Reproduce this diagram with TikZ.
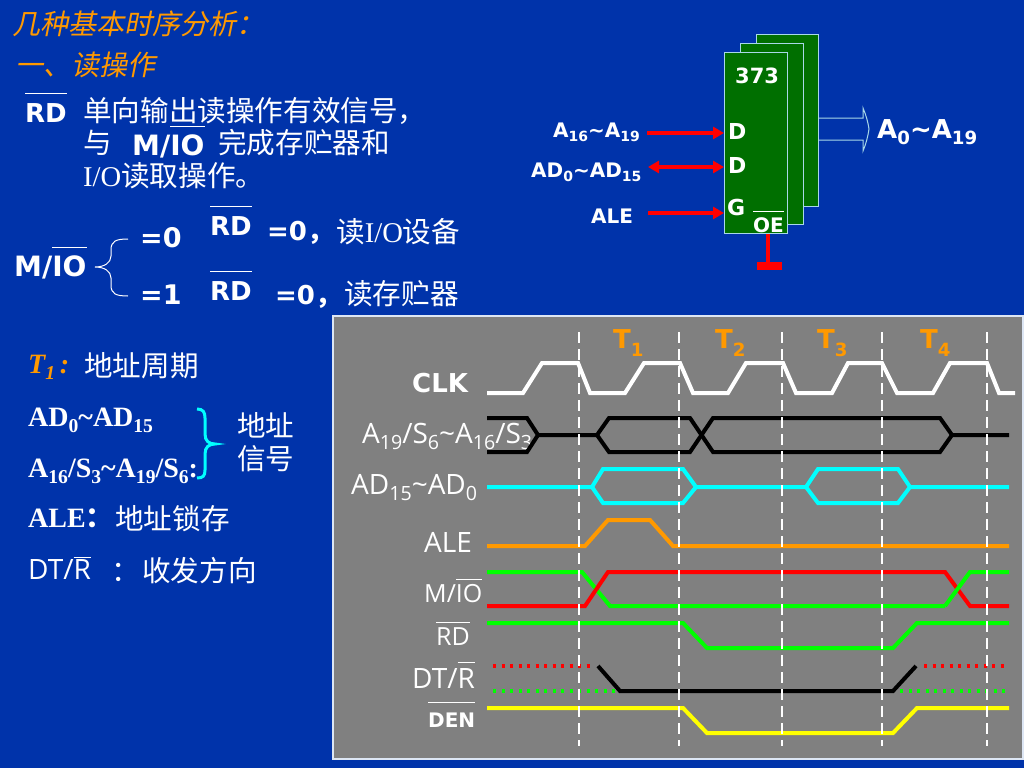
\documentclass[tikz,border=0pt]{standalone}
\usepackage{fontspec}
\setmainfont{DejaVu Sans}
\newfontfamily\cjk{Noto Sans CJK SC}
\newfontfamily\cjkSlant[FakeSlant=0.2]{Noto Sans CJK SC}
\newfontfamily\latSerif{Liberation Serif}
\newfontfamily\latThin{Open Sans}
\definecolor{slideBlue}{HTML}{0033AA}
\definecolor{slideOrange}{HTML}{FF9900}
\definecolor{panelGrey}{HTML}{808080}
\definecolor{panelEdge}{HTML}{DDE6F4}
\definecolor{chipGreen}{HTML}{006F00}
\definecolor{chipEdge}{HTML}{A8D8E8}
\definecolor{sigRed}{HTML}{FF0000}
\definecolor{sigGreen}{HTML}{00FF00}
\definecolor{sigCyan}{HTML}{00FFFF}
\definecolor{sigYellow}{HTML}{FFFF00}
\usetikzlibrary{arrows.meta, calc}
\newcommand{\fsz}[1]{\fontsize{#1}{#1}\selectfont}
\newcommand{\sbs}[1]{\raisebox{-0.24em}{\scalebox{0.7}{#1}}}
\newcommand{\tld}{\textasciitilde}
\newcommand{\barred}[2]{\setbox0\hbox{#2}\rlap{\raisebox{#1}{\rule{\wd0}{1pt}}}\box0}
\tikzset{
  %% ── Text ─────────────────────────────────────────────────────────────
  txt/.style        = {anchor=base west, inner sep=0pt, text=white},
  txtCjk/.style     = {txt, font=\cjk\fsz{28.6}},
  txtTitre/.style   = {txt, text=slideOrange, font=\cjkSlant\fsz{28}},
  txtBold/.style    = {txt, font=\bfseries\fsz{#1}},
  txtBold/.default  = 26,
  txtSerif/.style   = {txt, font=\latSerif\bfseries\fsz{28}},
  txtThin/.style    = {txt, font=\latThin\fsz{#1}},
  txtThin/.default  = 28,
  txtPeriod/.style  = {txt, text=slideOrange, font=\bfseries\fsz{26}},
  %% ── Chip ─────────────────────────────────────────────────────────────
  chipBox/.style    = {draw=chipEdge, line width=1pt, fill=chipGreen,
                       minimum width=#1, inner sep=0pt},
  redLine/.style    = {draw=sigRed, line width=4pt},
  redArrow/.style   = {redLine, -{Triangle[length=11pt, width=12pt]}},
  redBoth/.style    = {redLine, {Triangle[length=11pt, width=12pt]}-{Triangle[length=11pt, width=12pt]}},
  %% ── Waves ────────────────────────────────────────────────────────────
  wave/.style       = {line width=4pt, draw=#1},
  waveDot/.style    = {line width=3.4pt, draw=#1, dash pattern=on 3.4pt off 5.1pt},
  guide/.style      = {draw=white, line width=2.5pt, dash pattern=on 11pt off 6pt},
}

\begin{document}
\begin{tikzpicture}[x=1pt, y=-1pt]
\useasboundingbox (0,0) rectangle (1024,768);
\fill[slideBlue] (0,0) rectangle (1024,768);

%% heading and read signal notes
\node[txtTitre] (titre) at (12,35) {几种基本时序分析：};
\node[txtTitre] (titreRead) at (15,75) {一、读操作};
\node[txtBold=26] (rdMain) at (25,122) {\barred{28pt}{RD}};
\node[txtCjk] (noteA) at (83,121) {单向输出读操作有效信号，};
\node[txtCjk] (noteB) at (83,153) {与};
\node[txtBold=28] (mioMain) at (132,155) {M/\barred{28pt}{IO}};
\node[txtCjk] (noteC) at (218,153) {完成存贮器和};
\node[txtCjk] (noteD) at (83,186) {{\latSerif I/O}读取操作。};

\node[txtBold=28] (mioLeft) at (14,276) {M/\barred{28pt}{IO}};
\node[txtBold=27] (eqZero) at (140,247) {=0};
\node[txtBold=27] (eqOne) at (140,304) {=1};
\node[txtBold=26] (rdA) at (210,235) {\barred{28pt}{RD}};
\node[txtBold=26] (rdB) at (210,300) {\barred{28pt}{RD}};
\node[txtBold=26] (rdValA) at (267,240) {=0{\cjk，}};
\node[txtCjk] (rdTextA) at (336,242) {读{\latSerif I/O}设备};
\node[txtBold=26] (rdValB) at (275,304) {=0{\cjk，}};
\node[txtCjk] (rdTextB) at (344,304) {读存贮器};
\draw[white, line width=1pt] (128,239) .. controls (116,239) and (111,241) .. (111,250)
     -- (111,256) .. controls (111,263) and (104,267) .. (95,267)
     .. controls (104,267) and (111,271) .. (111,278)
     -- (111,285) .. controls (111,294) and (116,296) .. (128,296);

%% latch stack
\node[chipBox=62pt, minimum height=172pt, anchor=north west] (chipBack) at (756,34) {};
\node[chipBox=63pt, minimum height=181pt, anchor=north west] (chipMid) at (740,43) {};
\node[chipBox=63pt, minimum height=181pt, anchor=north west] (chipFront) at (724,52) {};
\node[txtBold=21] (chipName) at (735,83) {373};
\node[txtBold=22] (pinA) at (728,139) {D};
\node[txtBold=22] (pinB) at (728,173) {D};
\node[txtBold=22] (pinG) at (727,215) {G};
\node[txtBold=20] (pinOE) at (753,232) {\barred{20pt}{OE}};
\node[txtBold=20] (inA) at (553,137) {A\sbs{16}\tld A\sbs{19}};
\node[txtBold=20] (inB) at (531,177) {AD\sbs{0}\tld AD\sbs{15}};
\node[txtBold=20] (inC) at (591,223) {ALE};
\node[txtBold=26] (outBus) at (877,138) {A\sbs{0}\tld A\sbs{19}};
\coordinate (startA) at (647,133);
\coordinate (startB) at (648,167);
\coordinate (startC) at (648,213);
\coordinate (groundOE) at (768,266);
\draw[redArrow] (startA) -- (startA -| chipFront.west);
\draw[redBoth] (startB) -- (startB -| chipFront.west);
\draw[redArrow] (startC) -- (startC -| chipFront.west);
\draw[redLine] (groundOE |- chipFront.south) -- (groundOE);
\draw[sigRed, line width=8pt] (757,266) -- (782,266);
\draw[chipEdge, line width=1pt] (chipBack.east |- 0,118) -- (863,118) -- (863,108)
     .. controls (866,115) and (868,122) .. (869,129)
     .. controls (868,136) and (866,144) .. (863,151) -- (863,140) -- (chipBack.east |- 0,140);

%% T1 notes
\node[txt, text=slideOrange, font=\latSerif\bfseries\itshape\fsz{28}] (t1Note) at (28,373) {T\sbs{1}\,:};
\node[txtCjk] (t1Text) at (84,376) {地址周期};
\node[txtSerif] (adNote) at (28,426) {AD\sbs{0}\tld AD\sbs{15}};
\node[txtSerif] (aNote) at (28,477) {A\sbs{16}/S\sbs{3}\tld A\sbs{19}/S\sbs{6}:};
\node[txtSerif] (aleNote) at (28,527) {ALE{\cjk：}};
\node[txtCjk] (aleText) at (115,529) {地址锁存};
\node[txtThin] (dtNote) at (28,579) {DT/\barred{21pt}{R}};
\node[txtCjk] (dtColon) at (111,581) {：};
\node[txtCjk] (dtText) at (142,581) {收发方向};
\node[txtCjk] (addrA) at (237,436) {地址};
\node[txtCjk] (addrB) at (237,469) {信号};
\draw[sigCyan, line width=3pt] (197,409) .. controls (203,409) and (205,412) .. (205,418)
     -- (205,434) .. controls (205,441) and (209,444) .. (215,444)
     .. controls (209,444) and (205,447) .. (205,454)
     -- (205,470) .. controls (205,476) and (203,478) .. (197,478);

%% timing panel
\fill[panelGrey] (333,316) rectangle (1022,759);
\draw[panelEdge, line width=1.5pt] (333,316) rectangle (1023,759);

\foreach \n/\lab/\x in {pa/1/613, pb/2/715, pc/3/817, pd/4/920}
  \node[txtPeriod] (\n) at (\x,348) {T\raisebox{-0.32em}{\scalebox{0.7}{\lab}}};

\node[txtBold=26] (clkLab) at (412,392) {CLK};
\node[txtThin] (addrLab) at (362,443) {A\sbs{19}/S\sbs{6}\tld A\sbs{16}/S\sbs{3}};
\node[txtThin] (dataLab) at (351,494) {AD\sbs{15}\tld AD\sbs{0}};
\node[txtThin] (aleLab) at (424,552) {ALE};
\node[txtThin=25] (mioLab) at (424,602) {M/\barred{22pt}{IO}};
\node[txtThin=25] (rdLab) at (436,645) {\barred{22pt}{RD}};
\node[txtThin] (dtLab) at (412,688) {DT/\barred{25pt}{R}};
\node[txtBold=20] (denLab) at (428,727) {\barred{24pt}{DEN}};

\draw[wave=white] (487,393) -- (523,393) -- (542,363) -- (578,363) -- (590,393) -- (625,393)
     -- (644,363) -- (680,363) -- (693,393) -- (728,393) -- (746,363) -- (783,363) -- (796,393)
     -- (832,393) -- (848,363) -- (882,363) -- (897,393) -- (933,393) -- (950,363) -- (987,363)
     -- (999,393) -- (1015,393);
\draw[wave=black] (487,418) -- (527,418) -- (538,435) -- (527,452) -- (487,452);
\draw[wave=black] (538,435) -- (597,435) -- (609,418) -- (690,418) -- (713,452) -- (940,452)
     -- (952,435) -- (1009,435);
\draw[wave=black] (597,435) -- (609,452) -- (690,452) -- (713,418) -- (940,418) -- (952,435);
\draw[wave=sigCyan] (487,487) -- (592,487) -- (603,469) -- (683,469) -- (696,487) -- (806,487)
     -- (818,469) -- (898,469) -- (910,487) -- (1009,487);
\draw[wave=sigCyan] (592,487) -- (603,503) -- (683,503) -- (696,487);
\draw[wave=sigCyan] (806,487) -- (818,503) -- (898,503) -- (910,487);
\draw[wave=slideOrange] (487,546) -- (585,546) -- (608,520) -- (650,520) -- (673,546) -- (1009,546);
\draw[wave=sigGreen] (487,572) -- (582,572) -- (610,606) -- (945,606);
\draw[wave=sigRed] (487,606) -- (585,606) -- (608,572) -- (945,572) -- (970,606) -- (1009,606);
\draw[wave=sigGreen] (945,606) -- (970,572) -- (1009,572);
\draw[wave=sigGreen] (487,623) -- (683,623) -- (707,648) -- (893,648) -- (917,623) -- (1009,623);
\draw[waveDot=sigRed] (493,666) -- (592,666);
\draw[waveDot=sigRed] (924,666) -- (1004,666);
\draw[waveDot=sigGreen] (493,691) -- (620,691);
\draw[waveDot=sigGreen] (900,691) -- (1008,691);
\draw[wave=black] (598,666) -- (620,691) -- (893,691) -- (916,666);
\draw[wave=sigYellow] (487,708) -- (683,708) -- (707,733) -- (893,733) -- (917,708) -- (1009,708);

\foreach \x in {579, 679, 782, 882, 987}
  \draw[guide] (\x,332) -- (\x,746);

\end{tikzpicture}
\end{document}
